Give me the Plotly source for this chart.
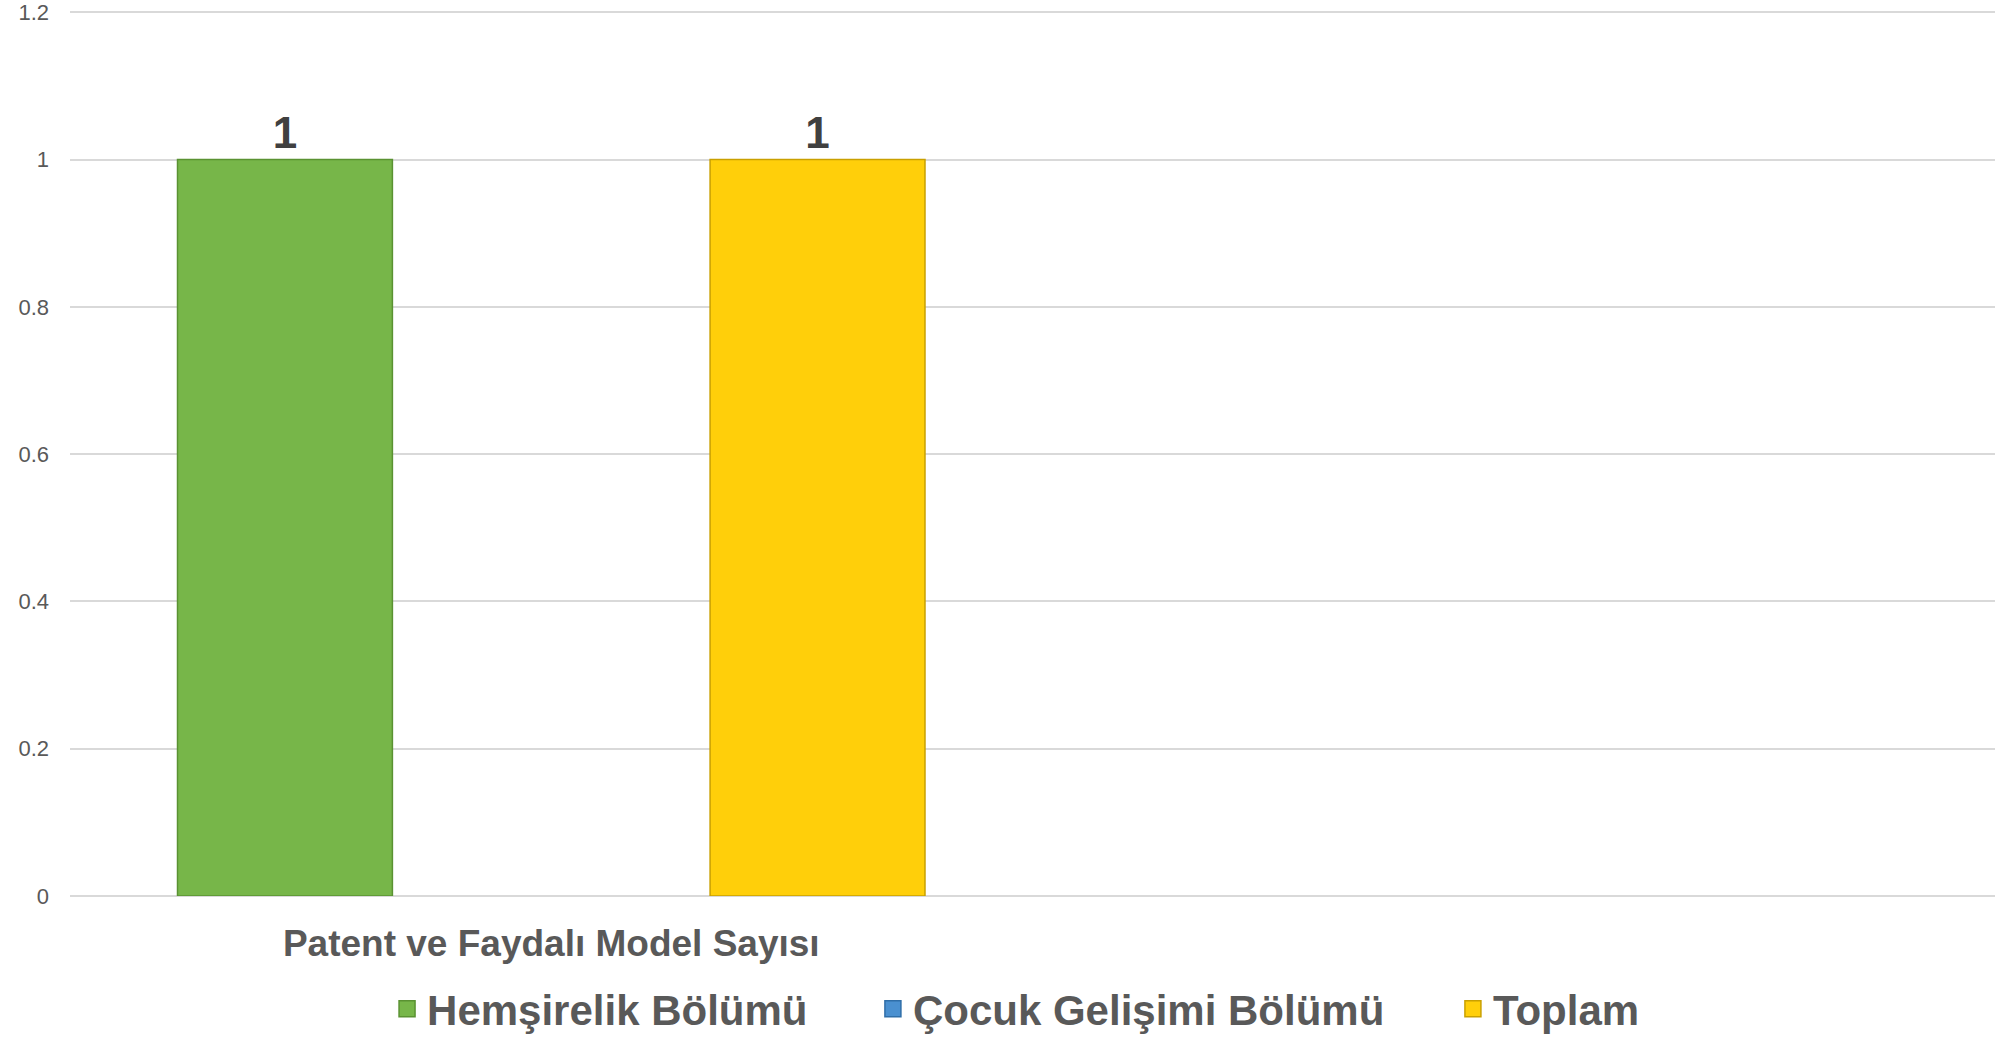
import plotly.graph_objects as go

categories = ["Patent ve Faydalı Model Sayısı"]
series_names = ["Hemşirelik Bölümü", "Çocuk Gelişimi Bölümü", "Toplam"]
hemsirelik = [1]
cocuk = [None]
toplam = [1]
y_ticks = [0, 0.2, 0.4, 0.6, 0.8, 1, 1.2]

colors = ["#77B649", "#4A90D0", "#FFCF0A"]
edges = ["#5A9232", "#2F6EA8", "#C9A000"]
values = [hemsirelik, cocuk, toplam]
legend_ids = ["legend", "legend2", "legend3"]
legend_x = [0.1647, 0.4171, 0.7184]

FONT = "Liberation Sans, Arial, sans-serif"
fig = go.Figure()
for name, vals, c, e in zip(series_names, values, colors, edges):
    fig.add_trace(go.Bar(
        x=categories, y=vals, name=name, showlegend=False,
        marker=dict(color=c, line=dict(color=e, width=1.5)),
        text=[("" if v is None else str(v)) for v in vals],
        textposition="outside", cliponaxis=False,
        textfont=dict(family=FONT, size=44, color="#404040", weight="bold"),
    ))
# legend entries with larger square swatches
for name, c, e, lg in zip(series_names, colors, edges, legend_ids):
    fig.add_trace(go.Scatter(
        x=[None], y=[None], mode="markers", name=name, legend=lg,
        marker=dict(symbol="square", size=20, color=c, line=dict(color=e, width=1.5)),
    ))

legend_style = dict(orientation="h", xanchor="left", y=-0.089, yanchor="top",
                    font=dict(family=FONT, size=42, color="#595959", weight="bold"),
                    bgcolor="rgba(0,0,0,0)")
layout_legends = {}
for lg, lx in zip(legend_ids, legend_x):
    layout_legends[lg] = dict(legend_style, x=lx)

fig.update_layout(
    width=1997, height=1038,
    margin=dict(l=70, r=2, t=10, b=142, autoexpand=False),
    paper_bgcolor="white", plot_bgcolor="white",
    barmode="group", bargap=0.17, bargroupgap=0.193,
    font=dict(family=FONT, color="#595959"),
    showlegend=True,
    **layout_legends,
)
fig.update_xaxes(range=[-0.5, 1.5], showgrid=False, showline=False, zeroline=False,
                 ticks="", ticklabelstandoff=22, automargin=False,
                 tickfont=dict(family=FONT, size=37, color="#595959", weight="bold"))
fig.update_yaxes(range=[0, 1.203], tickvals=y_ticks, ticktext=[f"{v:g}" for v in y_ticks],
                 showgrid=True, gridcolor="#D9D9D9", gridwidth=2,
                 zeroline=True, zerolinecolor="#D9D9D9", zerolinewidth=2,
                 showline=False, ticks="", ticklabelstandoff=20, automargin=False,
                 ticklabeloverflow="allow",
                 tickfont=dict(family=FONT, size=22, color="#595959"))

fig.write_html("out.html", config={"displayModeBar": False},
               post_script="document.body.style.margin='0px';document.body.style.overflow='hidden';")
